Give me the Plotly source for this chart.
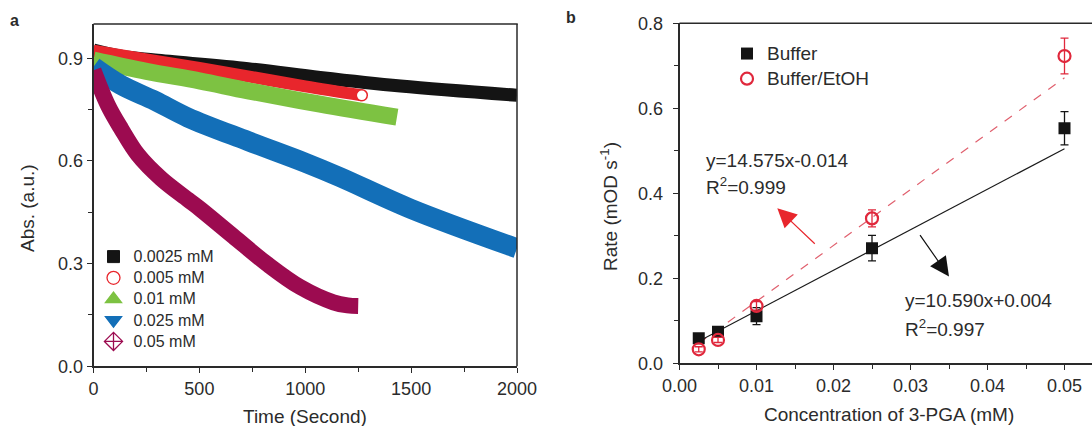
import plotly.graph_objects as go

# ---------------- Panel a : absorbance vs time ----------------
t_00025 = [0, 130, 290, 730, 1070, 1450, 2000]
abs_00025 = [0.924, 0.906, 0.895, 0.870, 0.844, 0.819, 0.792]
t_0005 = [0, 250, 500, 750, 1000, 1267]
abs_0005 = [0.922, 0.897, 0.872, 0.845, 0.818, 0.792]
t_001 = [0, 250, 500, 730, 1070, 1433]
abs_001 = [0.895, 0.862, 0.834, 0.805, 0.766, 0.728]
t_0025 = [0, 130, 290, 446, 730, 1000, 1164, 1500, 2000]
abs_0025 = [0.875, 0.822, 0.776, 0.727, 0.658, 0.595, 0.553, 0.460, 0.345]
t_005 = [0, 68, 131, 210, 320, 446, 503, 660, 818, 975, 1133, 1200, 1250]
abs_005 = [0.865, 0.763, 0.694, 0.618, 0.548, 0.487, 0.460, 0.380, 0.300, 0.232, 0.187, 0.178, 0.176]
series_a_names = ["0.0025 mM", "0.005 mM", "0.01 mM", "0.025 mM", "0.05 mM"]

# ---------------- Panel b : rate vs concentration ----------------
conc = [0.0025, 0.005, 0.01, 0.025, 0.05]
rate_buffer = [0.059, 0.074, 0.111, 0.271, 0.553]
err_buffer = [0.005, 0.006, 0.02, 0.03, 0.039]
rate_etoh = [0.033, 0.055, 0.135, 0.341, 0.723]
err_etoh = [0.006, 0.006, 0.01, 0.02, 0.042]
fit_x = [0.0025, 0.05]
fit_buffer = [0.052, 0.505]
fit_etoh = [0.047, 0.672]

W, H = 1092, 426
FONT = "Liberation Sans, Arial, sans-serif"
TXT = "#2b2b2b"
AX = "#2a2a2a"

C_BLACK = "#141414"
C_RED = "#e8262c"
C_GREEN = "#7dc242"
C_BLUE = "#136fb8"
C_MAROON = "#9c0b50"
C_RED_B = "#e0283c"

fig = go.Figure()

curves = [
    (t_00025, abs_00025, C_BLACK, 13),
    (t_0005, abs_0005, C_RED, 12),
    (t_001, abs_001, C_GREEN, 17),
    (t_0025, abs_0025, C_BLUE, 20),
    (t_005, abs_005, C_MAROON, 16),
]
for tx, ay, col, w in curves:
    fig.add_trace(go.Scatter(x=tx, y=ay, mode="lines", line=dict(color=col, width=w, shape="spline", smoothing=1.0),
                             showlegend=False, xaxis="x", yaxis="y", hoverinfo="skip"))

fig.add_trace(go.Scatter(x=t_0005[-1:], y=abs_0005[-1:], mode="markers",
                         marker=dict(symbol="circle", size=11, color="white", line=dict(color=C_RED, width=1.5)),
                         showlegend=False, xaxis="x", yaxis="y"))

legend_a_styles = [
    dict(symbol="square", color=C_BLACK, size=12, line=dict(color=C_BLACK, width=1)),
    dict(symbol="circle-open", color=C_RED, size=13, line=dict(color=C_RED, width=1.3)),
    dict(symbol="triangle-up", color=C_GREEN, size=14, line=dict(color=C_GREEN, width=1.3)),
    dict(symbol="triangle-down", color=C_BLUE, size=14, line=dict(color=C_BLUE, width=1.3)),
    dict(symbol="diamond-cross-open", color=C_MAROON, size=14, line=dict(color=C_MAROON, width=1.3)),
]
for name, mk in zip(series_a_names, legend_a_styles):
    fig.add_trace(go.Scatter(x=[None], y=[None], mode="markers",
                             name='<span style="font-size:16px">' + name + '</span>', marker=mk,
                             xaxis="x", yaxis="y", legend="legend"))

fig.add_trace(go.Scatter(x=fit_x, y=fit_etoh, mode="lines", line=dict(color="#e0606e", width=1.2, dash="dash"),
                         showlegend=False, xaxis="x2", yaxis="y2"))
fig.add_trace(go.Scatter(x=fit_x, y=fit_buffer, mode="lines", line=dict(color="#1a1a1a", width=1.2),
                         showlegend=False, xaxis="x2", yaxis="y2"))
fig.add_trace(go.Scatter(x=conc, y=rate_buffer, mode="markers",
                         name='<span style="font-size:19px">Buffer</span>',
                         marker=dict(symbol="square", size=12, color=C_BLACK),
                         error_y=dict(type="data", array=err_buffer, color=C_BLACK, thickness=1.3, width=4),
                         xaxis="x2", yaxis="y2", legend="legend2"))
fig.add_trace(go.Scatter(x=conc, y=rate_etoh, mode="markers",
                         name='<span style="font-size:19px">Buffer/EtOH</span>',
                         marker=dict(symbol="circle-open", size=12, color=C_RED_B, line=dict(width=2.2, color=C_RED_B)),
                         error_y=dict(type="data", array=err_etoh, color=C_RED_B, thickness=1.3, width=4),
                         xaxis="x2", yaxis="y2", legend="legend2"))

def axis_common(**kw):
    d = dict(showline=True, linecolor=AX, linewidth=1.5, ticks="outside", ticklen=5, tickwidth=1.3,
             tickcolor=AX, showgrid=False, zeroline=False, automargin=False, tickmode="linear",
             tickfont=dict(family=FONT, size=18, color=TXT))
    d.update(kw)
    return d

def minor(dt):
    return dict(ticks="outside", ticklen=4, tickwidth=1.3, tickcolor=AX, tick0=0, dtick=dt, showgrid=False)

xa0, xa1 = 93.5 / W, 517 / W
ya0, ya1 = (H - 366.3) / H, (H - 24.1) / H
xb0 = 679.5 / W
yb0, yb1 = (H - 363.3) / H, (H - 23.3) / H
xb_max = (W - 679.5) / 7700.0

fig.update_layout(
    template="none",
    width=W, height=H, autosize=False, margin=dict(l=0, r=0, t=0, b=0, pad=0, autoexpand=False),
    paper_bgcolor="white", plot_bgcolor="white",
    font=dict(family=FONT, color=TXT),
    xaxis=axis_common(domain=[xa0, xa1], range=[0, 2000], tick0=0, dtick=500,
                      minor=minor(250), anchor="y"),
    yaxis=axis_common(domain=[ya0, ya1], range=[0, 1.0], tick0=0, dtick=0.3, tickformat=".1f",
                      minor=minor(0.15), anchor="x"),
    xaxis2=axis_common(domain=[xb0, 1.0], range=[0, xb_max], tick0=0, dtick=0.01,
                       tickformat=".2f", minor=minor(0.005), anchor="y2"),
    yaxis2=axis_common(domain=[yb0, yb1], range=[0, 0.8], tick0=0, dtick=0.2, tickformat=".1f",
                       ticklabelstandoff=6, minor=minor(0.1), anchor="x2"),
    legend=dict(x=93.5 / W, y=1 - 241 / H, xanchor="left", yanchor="top", bgcolor="rgba(0,0,0,0)",
                font=dict(family=FONT, size=14, color=TXT), itemwidth=30, borderwidth=0),
    legend2=dict(x=727 / W, y=1 - 36 / H, xanchor="left", yanchor="top", bgcolor="rgba(0,0,0,0)",
                 font=dict(family=FONT, size=17, color=TXT), itemwidth=30, borderwidth=0),
)

# frame lines (top/right of panel a, top of panel b)
lw_x = 1.5 / W
lw_y = 1.5 / H
shapes = [
    dict(type="rect", xref="paper", yref="paper", x0=xa0, x1=xa1 + lw_x / 2, y0=ya1 - lw_y / 2, y1=ya1 + lw_y / 2,
         fillcolor=AX, line=dict(width=0), layer="above"),
    dict(type="rect", xref="paper", yref="paper", x0=xa1 - lw_x / 2, x1=xa1 + lw_x / 2, y0=ya0, y1=ya1,
         fillcolor=AX, line=dict(width=0), layer="above"),
    dict(type="rect", xref="paper", yref="paper", x0=xb0, x1=1.0, y0=yb1 - lw_y / 2, y1=yb1 + lw_y / 2,
         fillcolor=AX, line=dict(width=0), layer="above"),
]
fig.update_layout(shapes=shapes)

ann = []
def txt(x, y, s, size=19, **kw):
    d = dict(x=x / W, y=1 - y / H, xref="paper", yref="paper", text=s, showarrow=False,
             font=dict(family=FONT, size=size, color=TXT), xanchor="center", yanchor="middle")
    d.update(kw)
    ann.append(d)

txt(14, 20, "<b>a</b>", size=16)
txt(571, 18, "<b>b</b>", size=16)
txt(28, 208, "Abs. (a.u.)", textangle=-90)
txt(305, 416, "Time (Second)")
txt(609, 207, "Rate (mOD s<sup>-1</sup>)", textangle=-90)
txt(889, 414, "Concentration of 3-PGA (mM)")
txt(704, 160, "y=14.575x-0.014", xanchor="left")
txt(704, 186, "R<sup>2</sup>=0.999", xanchor="left")
txt(903, 300, "y=10.590x+0.004", xanchor="left")
txt(903, 328, "R<sup>2</sup>=0.997", xanchor="left")

ann.append(dict(x=0.0127, y=0.365, xref="x2", yref="y2", ax=39, ay=37, axref="pixel", ayref="pixel",
                showarrow=True, arrowhead=2, arrowsize=3.2, arrowwidth=1.2, arrowcolor="#e8262c", text=""))
ann.append(dict(x=0.0350, y=0.204, xref="x2", yref="y2", ax=-30, ay=-43, axref="pixel", ayref="pixel",
                showarrow=True, arrowhead=2, arrowsize=3.2, arrowwidth=1.2, arrowcolor="#111111", text=""))
fig.update_layout(annotations=ann)

fig.write_html("out.html")
